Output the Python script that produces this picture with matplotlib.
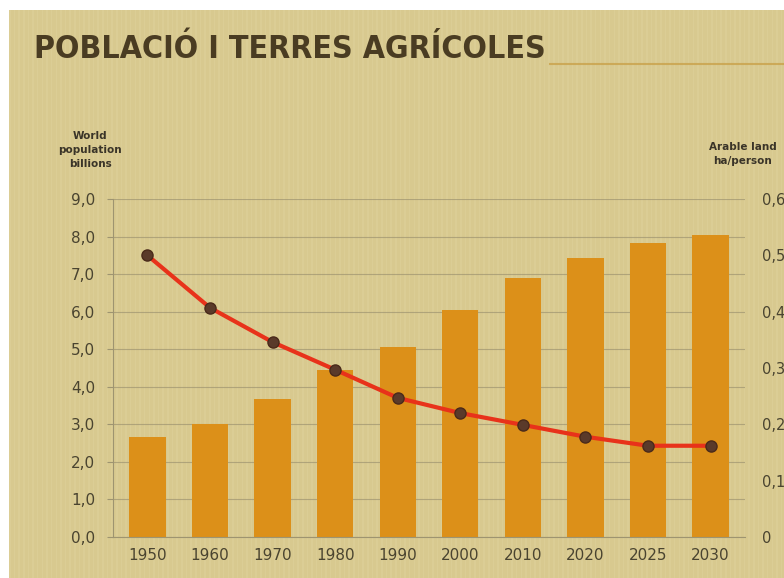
import matplotlib
matplotlib.use("Agg")
import matplotlib.pyplot as plt
import numpy as np
from matplotlib.patches import Rectangle
from matplotlib.lines import Line2D
from matplotlib import font_manager
from matplotlib.font_manager import FontProperties

years = ["1950", "1960", "1970", "1980", "1990", "2000", "2010", "2020", "2025", "2030"]
population = [2.65, 3.0, 3.67, 4.44, 5.05, 6.04, 6.9, 7.42, 7.82, 8.03]
arable = [0.50, 0.407, 0.346, 0.297, 0.247, 0.22, 0.199, 0.178, 0.162, 0.162]
left_ticks = [0, 1, 2, 3, 4, 5, 6, 7, 8, 9]
left_labels = ["0,0", "1,0", "2,0", "3,0", "4,0", "5,0", "6,0", "7,0", "8,0", "9,0"]
right_ticks = [0, 0.1, 0.2, 0.3, 0.4, 0.5, 0.6]
right_labels = ["0", "0,1", "0,2", "0,3", "0,4", "0,5", "0,6"]

# pick a condensed / narrow bold font if one is available
cands = []
for f in font_manager.fontManager.ttflist:
    nm = (f.name + " " + f.fname).lower()
    condensed = ("condensed" in nm or "narrow" in nm or
                 str(f.stretch) in ("condensed", "semi-condensed", "extra-condensed"))
    w = f.weight if isinstance(f.weight, int) else (700 if "bold" in str(f.weight) else 400)
    if condensed and w >= 600 and "mono" not in nm and "serif" not in nm.replace("sans", ""):
        cands.append(f)
if cands:
    title_fp = FontProperties(fname=cands[0].fname)
else:
    title_fp = FontProperties(family="DejaVu Sans", weight="bold")

W, H = 784, 578
fig = plt.figure(figsize=(W / 100, H / 100), dpi=100)
fig.patch.set_facecolor("white")

bg = fig.add_axes([9 / W, 0, 1 - 9 / W, 1 - 10 / H])
bg.set_xlim(0, 1)
bg.set_ylim(0, 1)
bg.axis("off")
bg.add_patch(Rectangle((0, 0), 1, 1, facecolor="#d8c98f", edgecolor="none"))
for xs in np.arange(0, 1, 0.006):
    bg.add_patch(Rectangle((xs, 0), 0.002, 1, facecolor="#e3d6a3", edgecolor="none", alpha=0.35))

# title
title_fp.set_size(30)
t = fig.text(34 / W, 1 - 49 / H, "POBLACIÓ I TERRES AGRÍCOLES", fontproperties=title_fp,
             color="#4a3c22", va="center", ha="left")
fig.canvas.draw()
wpx = t.get_window_extent().width
size = min(30, max(23, 30 * 400 / wpx))
title_fp.set_size(size)
t.set_fontproperties(title_fp)
fig.canvas.draw()
x_end = t.get_window_extent().x1
fig.add_artist(Line2D([(x_end + 4) / W, 1.0], [1 - 64 / H, 1 - 64 / H], color="#c9a24a", lw=1.5, alpha=0.8))

ax = fig.add_axes([113 / W, 41 / H, (745 - 113) / W, (537 - 199) / H])
ax.set_facecolor("none")
x = np.arange(len(years))
ax.bar(x, population, width=0.58, color="#dc9019", zorder=2)
ax.set_ylim(0, 9)
ax.set_xlim(-0.55, len(years) - 0.45)
ax.set_yticks(left_ticks)
ax.set_yticklabels(left_labels)
ax.set_xticks(x)
ax.set_xticklabels(years)
ax.grid(axis="y", color="#9e9470", lw=0.8, alpha=0.7, zorder=0)
for s in ["top", "right"]:
    ax.spines[s].set_visible(False)
ax.spines["left"].set_color("#9e9470")
ax.spines["bottom"].set_color("#9e9470")
ax.tick_params(axis="y", colors="#9e9470", labelcolor="#4a4430", labelsize=11, length=4, pad=9)
ax.tick_params(axis="x", colors="#9e9470", labelcolor="#4a4430", labelsize=11, length=0, pad=8)

ax2 = ax.twinx()
ax2.set_ylim(0, 0.6)
ax2.plot(x, arable, color="#e8321a", lw=3, zorder=3, solid_capstyle="round")
ax2.plot(x, arable, linestyle="none", marker="o", ms=8, mfc="#5a3a2a", mec="#4a2a1a", zorder=4)
ax2.set_yticks(right_ticks)
ax2.set_yticklabels(right_labels)
for s in ax2.spines.values():
    s.set_visible(False)
ax2.tick_params(axis="y", length=0, labelcolor="#4a4430", labelsize=10.5, pad=12)

fig.text(90 / W, 1 - 150 / H, "World\npopulation\nbillions", fontsize=7.5, fontweight="bold",
         color="#3a3428", ha="center", va="center", linespacing=1.5)
fig.text(743 / W, 1 - 154 / H, "Arable land\nha/person", fontsize=7.5, fontweight="bold",
         color="#3a3428", ha="center", va="center", linespacing=1.5)

fig.savefig("out.png", dpi=100, facecolor=fig.get_facecolor())
